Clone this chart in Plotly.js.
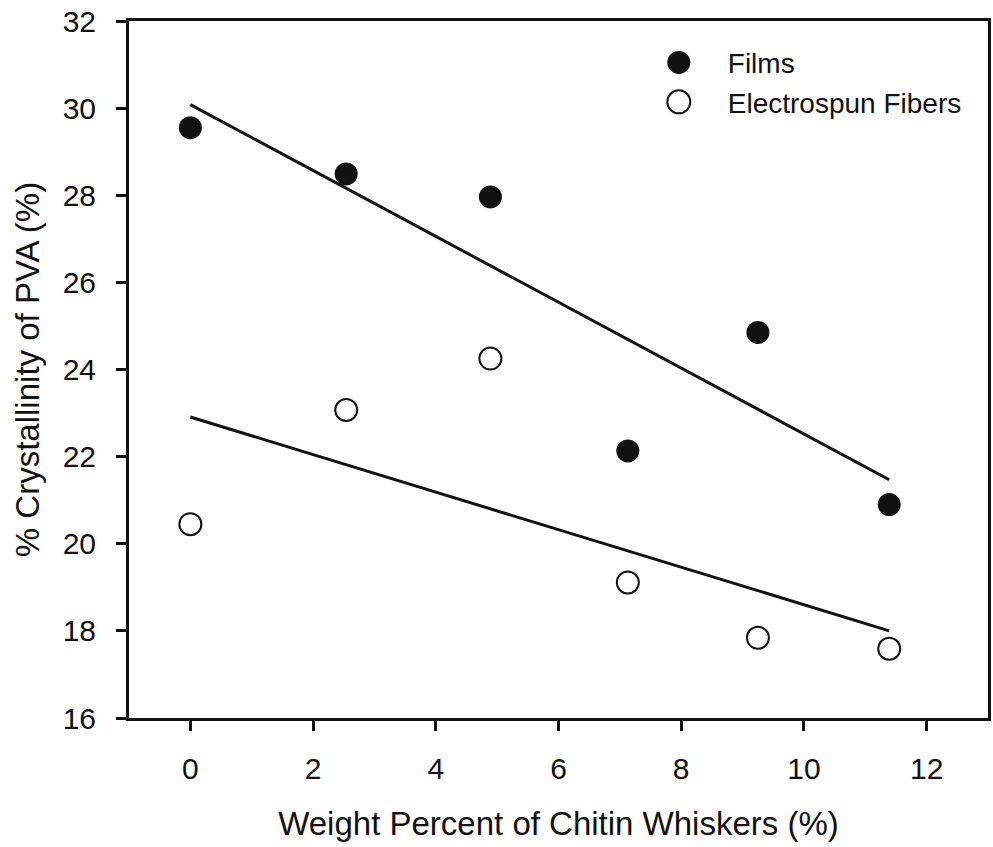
<!DOCTYPE html>
<html>
<head>
<meta charset="utf-8">
<script src="https://cdn.plot.ly/plotly-3.0.1.min.js"></script>
<style>html,body{margin:0;padding:0;background:#fff;}#chart{width:993px;height:847px;}</style>
</head>
<body>
<div id="chart"></div>
<script>
// Data
const filmsX = [0, 2.54, 4.89, 7.13, 9.25, 11.39];
const filmsY = [29.55, 28.49, 27.96, 22.13, 24.85, 20.9];
const fibersX = [0, 2.54, 4.89, 7.13, 9.25, 11.39];
const fibersY = [20.45, 23.07, 24.25, 19.11, 17.84, 17.59];
// Fitted trend lines (endpoints)
const filmsFitX = [0, 11.39];
const filmsFitY = [30.08, 21.47];
const fibersFitX = [0, 11.39];
const fibersFitY = [22.91, 18.0];
const xTicks = [0, 2, 4, 6, 8, 10, 12];
const yTicks = [16, 18, 20, 22, 24, 26, 28, 30, 32];

const ink = '#111111';
const font = 'Liberation Sans, Arial, sans-serif';

const traces = [
  {x: filmsFitX, y: filmsFitY, mode: 'lines', line: {color: ink, width: 3}, showlegend: false, hoverinfo: 'skip'},
  {x: fibersFitX, y: fibersFitY, mode: 'lines', line: {color: ink, width: 3}, showlegend: false, hoverinfo: 'skip'},
  {x: filmsX, y: filmsY, mode: 'markers', name: 'Films',
   marker: {symbol: 'circle', size: 23, color: ink, line: {color: ink, width: 0}}},
  {x: fibersX, y: fibersY, mode: 'markers', name: 'Electrospun Fibers',
   marker: {symbol: 'circle', size: 22, color: '#ffffff', line: {color: ink, width: 2}}}
];

const layout = {
  width: 993, height: 847,
  margin: {l: 129, r: 5, t: 21, b: 129},
  paper_bgcolor: '#ffffff', plot_bgcolor: '#ffffff',
  font: {family: font, color: ink},
  showlegend: true,
  legend: {x: 0.583, y: 0.976, xanchor: 'left', yanchor: 'top', bgcolor: 'rgba(0,0,0,0)',
           font: {size: 28, family: font, color: ink}, itemwidth: 88, tracegroupgap: 0},
  xaxis: {
    range: [-1, 13], tickvals: xTicks, ticktext: xTicks.map(String),
    ticks: 'outside', ticklen: 10, tickwidth: 3, tickcolor: ink,
    showline: true, linecolor: ink, linewidth: 3, mirror: true,
    showgrid: false, zeroline: false,
    tickfont: {size: 30, family: font, color: ink}, ticklabelstandoff: 12,
    title: {text: 'Weight Percent of Chitin Whiskers (%)', font: {size: 33, family: font, color: ink}, standoff: 28}
  },
  yaxis: {
    range: [16, 32], tickvals: yTicks, ticktext: yTicks.map(String),
    ticks: 'outside', ticklen: 10, tickwidth: 3, tickcolor: ink,
    showline: true, linecolor: ink, linewidth: 3, mirror: true,
    showgrid: false, zeroline: false,
    tickfont: {size: 30, family: font, color: ink}, ticklabelstandoff: 14,
    title: {text: '% Crystallinity of PVA (%)', font: {size: 33, family: font, color: ink}, standoff: 14}
  }
};

Plotly.newPlot('chart', traces, layout, {staticPlot: true}).then(function(gd) {
  // enlarge legend symbols to match the plotted markers
  const pts = gd.querySelectorAll('.legend path.scatterpts');
  pts.forEach(function(p) {
    const r = 11.5;
    p.setAttribute('d', 'M' + r + ',0A' + r + ',' + r + ' 0 1,1 0,-' + r + 'A' + r + ',' + r + ' 0 0,1 ' + r + ',0Z');
  });
});
</script>
</body>
</html>
